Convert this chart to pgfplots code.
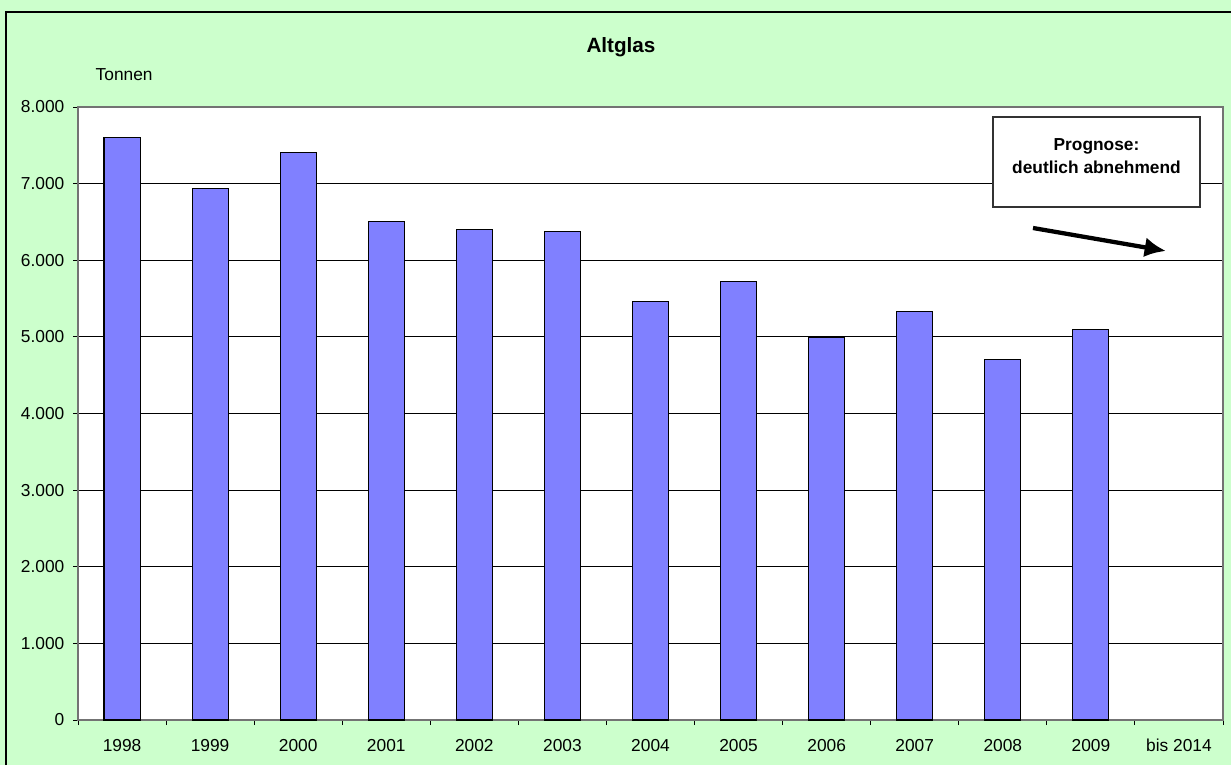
\documentclass[border=0pt]{standalone}
\usepackage{pgfplots}
\pgfplotsset{compat=1.18}
\usetikzlibrary{arrows.meta}
\usepackage{fontspec}
\setmainfont{Liberation Sans}
\definecolor{bg}{HTML}{CCFFCC}
\definecolor{barc}{HTML}{8080FF}
\begin{document}
\begin{tikzpicture}[x=0.75pt,y=0.75pt]
\fill[bg] (0,0) rectangle (1231,765);
\path[use as bounding box] (0,0) rectangle (1231,765);
\draw[black, line width=0.9pt] (6,0) -- (6,753) -- (1231,753);
\begin{axis}[
  at={(58.5pt,33.75pt)}, anchor=south west,
  scale only axis,
  width=858.75pt, height=459.75pt,
  xmin=-0.5, xmax=12.5, ymin=0, ymax=8000,
  axis background/.style={fill=white},
  axis line style={draw=black!55, line width=0.8pt},
  ytick={0,1000,...,8000},
  ymajorgrids, major grid style={black, line width=0.7pt},
  xtick={0,...,12},
  xticklabels={1998,1999,2000,2001,2002,2003,2004,2005,2006,2007,2008,2009,bis 2014},
  minor xtick={-0.5,0.5,...,12.5},
  major x tick style={draw=none},
  minor tick length=3.75pt,
  major tick length=3.75pt,
  tick align=outside,
  tick style={black, line width=0.7pt},
  xtick pos=bottom, ytick pos=left,
  /pgf/number format/.cd, fixed, 1000 sep={.}, assume math mode=true,
  /pgfplots/.cd,
  ticklabel style={font=\fontsize{13pt}{15pt}\selectfont},
  xticklabel style={yshift=-7pt, text height=9.5pt, text depth=0.5pt},
  yticklabel style={xshift=-3pt},
  ybar, bar width=0.41,
]
\addplot[fill=barc, draw=black, line width=0.8pt] coordinates {
 (0,7600) (1,6940) (2,7410) (3,6505) (4,6400) (5,6375)
 (6,5460) (7,5720) (8,4990) (9,5335) (10,4700) (11,5100)
};
\end{axis}
\node[font=\bfseries\fontsize{15.5pt}{18pt}\selectfont] at (621,718) {Altglas};
\node[anchor=west, font=\fontsize{13pt}{15pt}\selectfont] at (91,690) {Tonnen};
\draw[black!80, fill=white, line width=0.8pt] (993,648) rectangle (1200,558);
\node[font=\bfseries\fontsize{13pt}{17.5pt}\selectfont, align=center] at (1096.5,609) {Prognose:\\deutlich abnehmend};
\draw[black, line width=3.2pt, -{Latex[length=16pt,width=15pt]}] (1033,537) -- (1166,514);
\end{tikzpicture}
\end{document}
